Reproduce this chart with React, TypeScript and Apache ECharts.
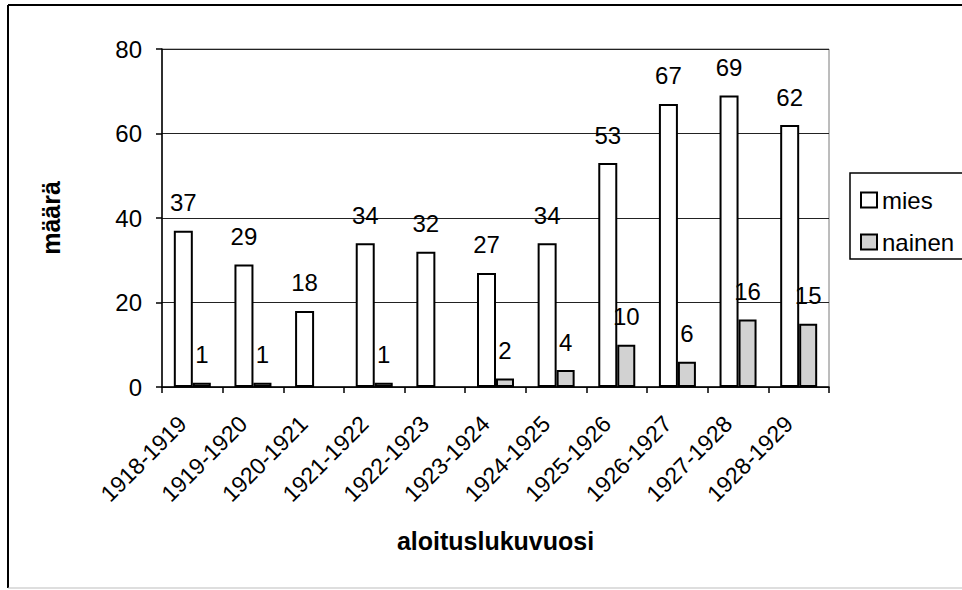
import React, { useEffect, useRef } from "react";
import * as echarts from "echarts";

const categories = [
  "1918-1919", "1919-1920", "1920-1921", "1921-1922", "1922-1923", "1923-1924",
  "1924-1925", "1925-1926", "1926-1927", "1927-1928", "1928-1929",
];
const miesValues = [37, 29, 18, 34, 32, 27, 34, 53, 67, 69, 62];
const nainenValues: (number | null)[] = [1, 1, null, 1, null, 2, 4, 10, 6, 16, 15];
const yTicks = [0, 20, 40, 60, 80];

const FONT = "'Liberation Sans', Arial, sans-serif";

export default function App() {
  const ref = useRef<HTMLDivElement>(null);
  useEffect(() => {
    if (!ref.current) return;
    const chart = echarts.init(ref.current, undefined, { renderer: "svg" });
    const labelStyle = {
      show: true,
      position: "top" as const,
      distance: 16,
      fontSize: 24,
      color: "#000",
      fontFamily: FONT,
    };
    chart.setOption({
      animation: false,
      backgroundColor: "#fff",
      textStyle: { fontFamily: FONT, color: "#000" },
      grid: {
        left: 162,
        right: 133,
        top: 49,
        bottom: 203,
        show: true,
        borderColor: "#7a7a7a",
        borderWidth: 1,
        backgroundColor: "transparent",
      },
      legend: {
        orient: "vertical",
        left: 860,
        top: 188,
        itemWidth: 16,
        itemHeight: 15,
        itemGap: 18,
        padding: 0,
        icon: "rect",
        textStyle: { fontSize: 24, color: "#000", fontFamily: FONT },
        data: ["mies", "nainen"],
      },
      xAxis: {
        type: "category",
        data: categories,
        name: "aloituslukuvuosi",
        nameLocation: "middle",
        nameGap: 141,
        nameTextStyle: { fontSize: 25, fontWeight: "bold", color: "#000", fontFamily: FONT },
        axisLine: { lineStyle: { color: "#000", width: 1.5 } },
        axisTick: { show: true, length: 6, lineStyle: { color: "#000", width: 1.5 } },
        axisLabel: {
          interval: 0,
          rotate: 45,
          fontSize: 23,
          margin: 23,
          padding: [0, 14, 0, 0],
          color: "#000",
          fontFamily: FONT,
        },
        splitLine: { show: false },
      },
      yAxis: {
        type: "value",
        min: 0,
        max: 80,
        interval: 20,
        name: "määrä",
        nameLocation: "middle",
        nameGap: 99,
        nameTextStyle: { fontSize: 25, fontWeight: "bold", color: "#000", fontFamily: FONT },
        axisLine: { show: true, lineStyle: { color: "#000", width: 1.5 } },
        axisTick: { show: true, length: 6, lineStyle: { color: "#000", width: 1.5 } },
        axisLabel: {
          fontSize: 24,
          margin: 20,
          color: "#000",
          fontFamily: FONT,
          formatter: (v: number) => (yTicks.includes(v) ? String(v) : ""),
        },
        splitLine: { show: true, lineStyle: { color: "#222", width: 1 } },
      },
      series: [
        {
          name: "mies",
          type: "bar",
          data: miesValues,
          barWidth: 19,
          barGap: "0%",
          itemStyle: { color: "#ffffff", borderColor: "#000", borderWidth: 2 },
          label: labelStyle,
        },
        {
          name: "nainen",
          type: "bar",
          data: nainenValues,
          barWidth: 18,
          barGap: "0%",
          itemStyle: { color: "#d2d2d2", borderColor: "#000", borderWidth: 2 },
          label: labelStyle,
        },
      ],
      graphic: [
        { type: "line", shape: { x1: 8, y1: 5, x2: 962, y2: 5 }, style: { stroke: "#000", lineWidth: 2 } },
        { type: "line", shape: { x1: 8, y1: 5, x2: 8, y2: 588 }, style: { stroke: "#000", lineWidth: 2 } },
        { type: "line", shape: { x1: 8, y1: 588, x2: 962, y2: 588 }, style: { stroke: "#bdbdbd", lineWidth: 1 } },
        {
          type: "rect",
          shape: { x: 850, y: 173, width: 200, height: 86 },
          style: { fill: "none", stroke: "#000", lineWidth: 1.5 },
        },
      ],
    });
    return () => chart.dispose();
  }, []);
  return (
    <div
      ref={ref}
      style={{ position: "absolute", left: 0, top: 0, width: 962, height: 590 }}
    />
  );
}
